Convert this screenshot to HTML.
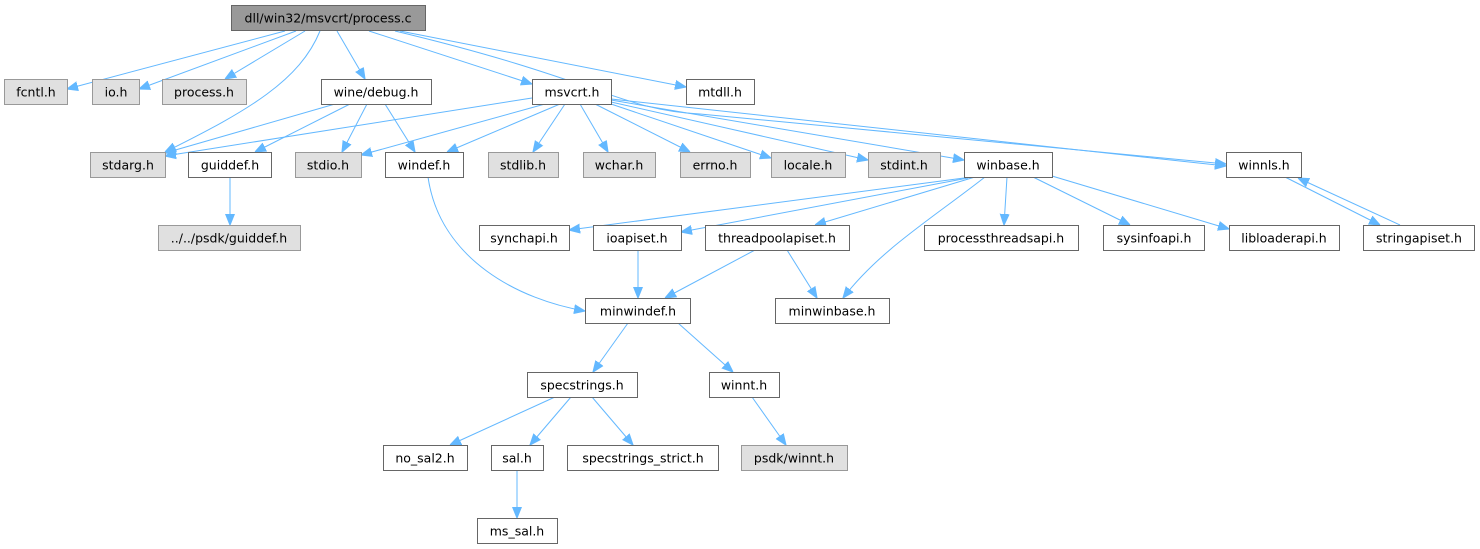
<!DOCTYPE html>
<html><head><meta charset="utf-8"><style>
html,body{margin:0;padding:0;background:#fff;}
svg{display:block;}
text{font-family:"DejaVu Sans","Liberation Sans",sans-serif;font-size:12.5px;fill:#000;text-anchor:middle;}
.w{fill:#fff;stroke:#666;stroke-width:1;}
.g{fill:#e0e0e0;stroke:#999;stroke-width:1;}
.r{fill:#999;stroke:#666;stroke-width:1;}
path{fill:none;stroke:#63b8ff;stroke-width:1;}
</style></head><body>
<svg width="1480" height="549" viewBox="0 0 1480 549" xmlns="http://www.w3.org/2000/svg">
<defs><marker id="a" viewBox="0 0 10 10" refX="10" refY="5" markerWidth="11" markerHeight="11" markerUnits="userSpaceOnUse" orient="auto"><path d="M0,1 L10,5 L0,9 z" style="fill:#63b8ff;stroke:#63b8ff"/></marker></defs>
<g marker-end="url(#a)">
<path d="M285,31 L67,89"/>
<path d="M296,31 L139,89"/>
<path d="M305,31 L225,79"/>
<path d="M320,31 C300,80 250,110 165,152"/>
<path d="M337,31 L365,79"/>
<path d="M369,31 L532,84"/>
<path d="M400,31 L686,87"/>
<path d="M395,31 C600,80 620,110 700,114 L1226,164"/>
<path d="M335,104 L165,153"/>
<path d="M350,104 L255,152"/>
<path d="M367,104 L342,152"/>
<path d="M385,104 L415,152"/>
<path d="M532,98 L165,156"/>
<path d="M545,104 L361,155"/>
<path d="M560,104 L447,152"/>
<path d="M565,104 L533,152"/>
<path d="M580,104 L608,152"/>
<path d="M595,104 L690,152"/>
<path d="M611,104 L771,158"/>
<path d="M611,102 L868,160"/>
<path d="M611,100 L964,160"/>
<path d="M611,99 L1226,166"/>
<path d="M964,178 L569,230"/>
<path d="M968,178 L681,232"/>
<path d="M975,177 L815,225"/>
<path d="M985,177 C930,220 880,250 843,298"/>
<path d="M1007,177 L1004,225"/>
<path d="M1033,177 L1130,225"/>
<path d="M1052,176 L1229,229"/>
<path d="M1285,177 L1380,225"/>
<path d="M1400,225 L1298,178"/>
<path d="M230,177 L230,225"/>
<path d="M428,177 C440,260 520,300 585,311"/>
<path d="M638,250 L638,298"/>
<path d="M755,250 L665,298"/>
<path d="M787,250 L817,298"/>
<path d="M628,323 L593,372"/>
<path d="M678,323 L733,372"/>
<path d="M555,397 L450,445"/>
<path d="M571,397 L530,445"/>
<path d="M592,397 L633,445"/>
<path d="M752,397 L786,445"/>
<path d="M517,470 L517,518"/>
</g>
<rect class="r" x="231.5" y="5.5" width="194" height="25"/><text x="328" y="22.5">dll/win32/msvcrt/process.c</text>
<rect class="g" x="4.5" y="79.5" width="63" height="25"/><text x="36" y="96.5">fcntl.h</text>
<rect class="g" x="92.5" y="79.5" width="47" height="25"/><text x="116" y="96.5">io.h</text>
<rect class="g" x="162.5" y="79.5" width="84" height="25"/><text x="204" y="96.5">process.h</text>
<rect class="w" x="321.5" y="79.5" width="110" height="25"/><text x="376" y="96.5">wine/debug.h</text>
<rect class="w" x="532.5" y="79.5" width="79" height="25"/><text x="572" y="96.5">msvcrt.h</text>
<rect class="w" x="686.5" y="79.5" width="68" height="25"/><text x="720" y="96.5">mtdll.h</text>
<rect class="g" x="90.5" y="152.5" width="75" height="25"/><text x="128" y="169.5">stdarg.h</text>
<rect class="w" x="188.5" y="152.5" width="83" height="25"/><text x="230" y="169.5">guiddef.h</text>
<rect class="g" x="295.5" y="152.5" width="66" height="25"/><text x="328" y="169.5">stdio.h</text>
<rect class="w" x="385.5" y="152.5" width="78" height="25"/><text x="424" y="169.5">windef.h</text>
<rect class="g" x="488.5" y="152.5" width="70" height="25"/><text x="523" y="169.5">stdlib.h</text>
<rect class="g" x="583.5" y="152.5" width="72" height="25"/><text x="619" y="169.5">wchar.h</text>
<rect class="g" x="680.5" y="152.5" width="70" height="25"/><text x="715" y="169.5">errno.h</text>
<rect class="g" x="771.5" y="152.5" width="74" height="25"/><text x="808" y="169.5">locale.h</text>
<rect class="g" x="868.5" y="152.5" width="72" height="25"/><text x="904" y="169.5">stdint.h</text>
<rect class="w" x="964.5" y="152.5" width="88" height="25"/><text x="1008" y="169.5">winbase.h</text>
<rect class="w" x="1226.5" y="152.5" width="75" height="25"/><text x="1264" y="169.5">winnls.h</text>
<rect class="g" x="158.5" y="225.5" width="142" height="25"/><text x="229" y="242.5">../../psdk/guiddef.h</text>
<rect class="w" x="479.5" y="225.5" width="90" height="25"/><text x="524" y="242.5">synchapi.h</text>
<rect class="w" x="593.5" y="225.5" width="88" height="25"/><text x="637" y="242.5">ioapiset.h</text>
<rect class="w" x="705.5" y="225.5" width="144" height="25"/><text x="777" y="242.5">threadpoolapiset.h</text>
<rect class="w" x="924.5" y="225.5" width="154" height="25"/><text x="1001" y="242.5">processthreadsapi.h</text>
<rect class="w" x="1103.5" y="225.5" width="101" height="25"/><text x="1154" y="242.5">sysinfoapi.h</text>
<rect class="w" x="1229.5" y="225.5" width="110" height="25"/><text x="1284" y="242.5">libloaderapi.h</text>
<rect class="w" x="1363.5" y="225.5" width="111" height="25"/><text x="1419" y="242.5">stringapiset.h</text>
<rect class="w" x="585.5" y="298.5" width="105" height="25"/><text x="638" y="315.5">minwindef.h</text>
<rect class="w" x="775.5" y="298.5" width="114" height="25"/><text x="832" y="315.5">minwinbase.h</text>
<rect class="w" x="527.5" y="372.5" width="110" height="25"/><text x="582" y="389.5">specstrings.h</text>
<rect class="w" x="709.5" y="372.5" width="70" height="25"/><text x="744" y="389.5">winnt.h</text>
<rect class="w" x="383.5" y="445.5" width="84" height="25"/><text x="425" y="462.5">no_sal2.h</text>
<rect class="w" x="491.5" y="445.5" width="52" height="25"/><text x="517" y="462.5">sal.h</text>
<rect class="w" x="567.5" y="445.5" width="151" height="25"/><text x="643" y="462.5">specstrings_strict.h</text>
<rect class="g" x="741.5" y="445.5" width="106" height="25"/><text x="794" y="462.5">psdk/winnt.h</text>
<rect class="w" x="477.5" y="518.5" width="80" height="25"/><text x="517" y="535.5">ms_sal.h</text>
</svg>
</body></html>
